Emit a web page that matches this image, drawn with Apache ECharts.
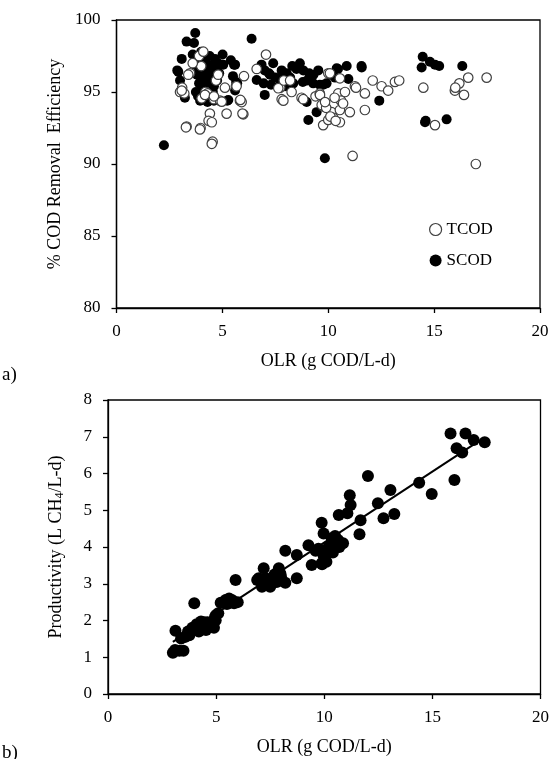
<!DOCTYPE html>
<html><head><meta charset="utf-8">
<script src="https://cdn.jsdelivr.net/npm/echarts@6/dist/echarts.min.js"></script>
<style>html,body{margin:0;padding:0;background:#fff}#c{width:552px;height:759px}</style>
</head><body><div id="c"></div>
<script>
// ---- Panel a) % COD removal efficiency vs OLR ----
const tcodOLR = [3.0,3.1,3.2,3.31,3.97,3.47,4.0,4.2,4.3,4.41,4.35,4.5,4.54,4.5,4.6,4.7,4.89,5.12,5.2,5.64,5.83,5.91,5.99,6.02,5.95,6.62,7.06,7.73,7.8,7.88,7.9,8.2,8.27,8.74,8.82,9.4,9.6,9.76,9.76,10.0,10.0,10.16,10.24,10.47,10.55,10.55,10.55,10.79,10.6,11.02,11.15,11.26,11.31,11.73,11.73,12.1,12.52,12.83,13.15,13.35,14.49,15.04,15.98,16.19,16.0,16.41,16.61,17.48,16.97,3.6,3.9,4.02,4.97,3.08,3.28,3.94,4.8,4.1,3.39,4.18,4.6,5.67,5.85,7.64,9.61,10.08,9.69,9.9,10.1,10.35,9.85,10.3,10.7];
const tcodEff = [95.0,95.3,94.9,92.6,92.5,96.3,96.8,95.0,94.9,93.5,93.0,92.9,91.55,91.4,94.5,95.8,94.4,95.3,93.5,95.4,94.4,94.3,93.45,96.1,93.5,96.6,97.6,95.3,94.5,94.4,95.8,95.8,95.0,94.6,94.5,94.7,94.9,94.0,92.7,93.06,96.3,93.6,93.2,94.9,93.75,92.9,95.95,95.0,94.4,93.6,90.56,95.4,95.3,94.9,93.75,95.8,95.4,95.1,95.7,95.8,95.3,92.7,95.1,95.6,95.3,94.8,96.0,96.0,90.0,97.0,97.5,94.56,94.33,95.1,92.55,92.4,96.2,97.8,96.2,94.8,94.7,95.4,94.45,95.26,94.8,96.3,94.1,93.9,93.3,93.0,94.3,94.6,94.2];
const scodOLR = [2.24,2.87,2.92,3.0,3.08,3.23,3.31,3.66,3.72,3.6,3.7,3.8,3.9,3.75,3.85,4.0,4.1,4.2,4.3,4.1,4.4,4.5,4.4,4.6,4.5,4.3,4.8,5.01,5.04,5.23,5.28,5.4,5.6,5.5,5.7,5.6,6.38,6.62,7.0,7.4,7.0,7.64,8.04,8.35,8.66,9.0,9.53,8.98,9.45,9.06,9.84,9.92,10.46,10.87,10.95,10.32,11.57,11.58,12.41,14.46,14.41,14.8,15.04,15.24,16.33,14.57,14.6,15.59,6.85,7.2,8.5,9.3,9.6,
  3.8,3.9,4.0,4.05,4.15,4.25,4.35,4.45,4.55,4.65,4.7,4.75,4.85,3.95,4.6,5.55,5.65,6.95,7.25,7.96,8.82,9.29,9.76,10.4,7.5,7.7,7.8,8.2,8.3,8.8,9.1,10.1,7.3];
const scodEff = [91.3,96.5,96.4,95.8,97.3,94.6,98.5,98.4,99.1,97.6,96.9,96.2,95.6,95.0,94.7,97.8,97.2,96.5,95.9,95.2,97.5,96.8,96.0,95.4,94.6,94.3,97.0,97.6,96.9,94.4,94.44,97.2,96.9,96.1,95.6,95.1,98.7,95.83,96.5,97.0,94.8,95.37,96.3,95.6,97.0,95.8,96.5,94.3,93.6,93.06,90.4,95.6,96.6,96.8,95.9,96.0,96.8,96.7,94.4,97.45,96.7,97.1,96.9,96.8,96.8,92.9,93.0,93.1,96.9,96.3,96.6,96.2,95.5,
  97.4,96.6,96.0,95.4,94.9,97.0,96.3,95.6,95.0,97.3,96.6,95.8,96.3,94.4,94.4,96.9,95.7,95.6,96.2,95.4,96.5,95.6,95.5,96.65,96.0,95.9,96.5,96.0,96.8,95.7,96.3,96.2,95.5];
// ---- Panel b) methane productivity vs OLR ----
const prodOLR = [3.0,3.1,3.3,3.49,3.12,3.38,3.76,3.99,4.07,4.3,4.53,4.76,4.98,5.0,4.2,4.4,4.6,4.9,5.21,5.44,5.6,5.83,5.7,5.9,6.9,6.97,7.12,7.2,7.5,7.6,7.9,7.97,8.2,8.2,8.0,8.73,8.73,9.27,9.42,9.88,9.97,9.73,9.97,9.9,10.34,10.64,10.87,10.56,10.18,10.03,9.88,11.18,11.22,11.07,10.67,11.68,11.63,12.02,12.48,12.74,13.06,13.24,14.39,14.97,15.84,16.53,16.91,17.42,16.12,16.38,16.02,
  3.7,3.9,4.1,4.25,4.45,4.65,4.85,4.95,5.1,3.55,5.5,5.75,6.0,10.2,10.4,10.5,10.7,10.1,9.6,7.3,7.7,7.8];
const prodVal = [1.12,1.2,1.18,1.18,1.72,1.51,1.6,2.47,1.83,1.97,1.74,1.88,2.01,2.15,1.7,1.85,1.95,1.8,2.48,2.56,2.6,2.47,2.5,3.1,3.1,3.15,2.92,3.42,2.92,3.1,3.42,3.28,3.9,3.03,3.2,3.78,3.15,4.05,3.51,4.66,4.37,3.95,3.77,3.53,4.24,4.19,4.1,4.01,3.92,3.74,3.56,5.41,5.14,4.92,4.87,4.73,4.35,5.93,5.19,4.78,5.55,4.9,5.75,5.44,7.09,7.09,6.91,6.85,6.69,6.57,5.82,
  1.7,1.8,1.9,1.8,1.95,1.85,1.95,2.1,2.2,1.55,2.45,2.55,2.5,4.0,3.85,4.3,4.0,3.6,3.9,3.15,3.25,3.05];
const fitOLR = [3.0, 17.2];
const fitVal = [1.42, 6.9];

const FONT = 'Liberation Serif';
const zip = (a, b) => a.map((v, i) => [v, b[i]]);

const axisCommon = {
  axisLine: {show: true, onZero: false, lineStyle: {color: '#000', width: 1.3}},
  axisTick: {show: true, inside: false, length: 5, lineStyle: {color: '#000', width: 1.3}},
  splitLine: {show: false},
  axisLabel: {color: '#000', fontFamily: FONT, fontSize: 17},
  nameTextStyle: {color: '#000', fontFamily: FONT, fontSize: 18},
  nameLocation: 'middle'
};

const chart = echarts.init(document.getElementById('c'), null, {renderer: 'canvas'});
chart.setOption({
  backgroundColor: '#fff',
  animation: false,
  grid: [
    {left: 116.5, top: 20, width: 423.5, height: 288, show: true, borderColor: '#000', borderWidth: 1.3},
    {left: 108, top: 400, width: 436, height: 294, show: true, borderColor: '#000', borderWidth: 1.3}
  ],
  xAxis: [
    Object.assign({}, axisCommon, {gridIndex: 0, type: 'value', min: 0, max: 20, interval: 5, name: 'OLR (g COD/L-d)', nameGap: 44, axisLabel: Object.assign({}, axisCommon.axisLabel, {margin: 15})}),
    Object.assign({}, axisCommon, {gridIndex: 1, type: 'value', min: 0, max: 20, interval: 5, name: 'OLR (g COD/L-d)', nameGap: 44, axisLabel: Object.assign({}, axisCommon.axisLabel, {margin: 15})})
  ],
  yAxis: [
    Object.assign({}, axisCommon, {gridIndex: 0, type: 'value', min: 80, max: 100, interval: 5, name: '% COD Removal  Efficiency', nameGap: 50, axisLabel: Object.assign({}, axisCommon.axisLabel, {margin: 16})}),
    Object.assign({}, axisCommon, {gridIndex: 1, type: 'value', min: 0, max: 8, interval: 1, nameGap: 42,
      name: '{a|Productivity (L CH}{s|4}{a|/L-d)}',
      nameTextStyle: {color: '#000', fontFamily: FONT, fontSize: 18, rich: {a: {fontFamily: FONT, fontSize: 18, color: '#000'}, s: {fontFamily: FONT, fontSize: 12, color: '#000', verticalAlign: 'bottom', padding: [8, 0, 0, 0]}}},
      axisLabel: Object.assign({}, axisCommon.axisLabel, {margin: 16})})
  ],
  legend: {
    orient: 'vertical', left: 424, top: 216, itemWidth: 12, itemHeight: 12, itemGap: 14,
    textStyle: {fontFamily: FONT, fontSize: 17, color: '#000'},
    data: [
      {name: 'TCOD', icon: 'circle', itemStyle: {color: '#fff', borderColor: '#404040', borderWidth: 1.2}},
      {name: 'SCOD', icon: 'circle', itemStyle: {color: '#000', borderWidth: 0}}
    ]
  },
  series: [
    {name: 'SCOD', type: 'scatter', xAxisIndex: 0, yAxisIndex: 0, symbol: 'circle', symbolSize: 10,
      itemStyle: {color: '#000', opacity: 1}, data: zip(scodOLR, scodEff)},
    {name: 'TCOD', type: 'scatter', xAxisIndex: 0, yAxisIndex: 0, symbol: 'circle', symbolSize: 9.5,
      itemStyle: {color: '#fff', borderColor: '#404040', borderWidth: 1.2, opacity: 1}, data: zip(tcodOLR, tcodEff)},
    {name: 'Productivity', type: 'scatter', xAxisIndex: 1, yAxisIndex: 1, symbol: 'circle', symbolSize: 12,
      itemStyle: {color: '#000', opacity: 1}, data: zip(prodOLR, prodVal)},
    {name: 'Fit', type: 'line', xAxisIndex: 1, yAxisIndex: 1, symbol: 'none', z: 3,
      lineStyle: {color: '#000', width: 2}, data: zip(fitOLR, fitVal)}
  ],
  graphic: [
    {type: 'text', left: 2, top: 366, style: {text: 'a)', font: '19px "Liberation Serif"', fill: '#000'}},
    {type: 'text', left: 2, top: 744, style: {text: 'b)', font: '19px "Liberation Serif"', fill: '#000'}}
  ]
});
</script></body></html>
